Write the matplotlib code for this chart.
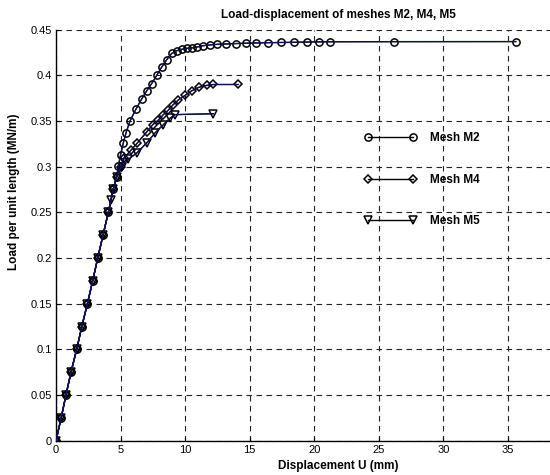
import matplotlib
matplotlib.use("Agg")
import matplotlib.pyplot as plt

plt.rcParams['font.family'] = ['Liberation Sans', 'DejaVu Sans']

# shared elastic branch
u_common = [0, 0.4, 0.77, 1.16, 1.6, 2.0, 2.43, 2.84, 3.23, 3.64, 4.05, 4.44, 4.7]
p_common = [0, 0.025, 0.05, 0.075, 0.1, 0.125, 0.15, 0.175, 0.2, 0.225, 0.25, 0.276, 0.289]

u_m2 = u_common + [4.83, 5.0, 5.21, 5.42, 5.73, 6.19, 6.63, 7.02, 7.41, 7.8, 8.18, 8.57, 8.96,
                   9.34, 9.73, 10.12, 10.5, 10.9, 11.4, 11.9, 12.5, 13.2, 13.9, 14.7, 15.5,
                   16.4, 17.4, 18.4, 19.4, 20.4, 21.2, 26.2, 35.6]
p_m2 = p_common + [0.301, 0.313, 0.326, 0.337, 0.350, 0.363, 0.374, 0.383, 0.391, 0.400, 0.409,
                   0.417, 0.424, 0.427, 0.4285, 0.4296, 0.430, 0.431, 0.4325, 0.4333, 0.434,
                   0.4344, 0.4348, 0.4352, 0.4355, 0.4358, 0.436, 0.4362, 0.4365, 0.4367,
                   0.4368, 0.4369, 0.437]

u_m4 = u_common + [5.0, 5.3, 5.8, 6.3, 7.02, 7.49, 7.92, 8.31, 8.7, 9.08, 9.47, 9.99, 10.5,
                   11.07, 11.67, 12.18, 14.1]
p_m4 = p_common + [0.300, 0.310, 0.318, 0.326, 0.338, 0.346, 0.351, 0.357, 0.362, 0.368,
                   0.373, 0.378, 0.383, 0.387, 0.389, 0.390, 0.390]

u_m5 = u_common[:11] + [4.26] + u_common[11:] + [5.1, 5.6, 6.25, 7.02, 7.67, 8.31, 8.83, 9.2, 12.18]
p_m5 = p_common[:11] + [0.263] + p_common[11:] + [0.300, 0.308, 0.315, 0.326, 0.337, 0.346,
                                                   0.353, 0.357, 0.358]

series = [("Mesh M2", u_m2, p_m2, 'o'),
          ("Mesh M4", u_m4, p_m4, 'D'),
          ("Mesh M5", u_m5, p_m5, 'v')]
msizes = {'o': 5.2, 'D': 4.3, 'v': 5.8}

x_ticks = [0, 5, 10, 15, 20, 25, 30, 35]
y_ticks = [0, 0.05, 0.1, 0.15, 0.2, 0.25, 0.3, 0.35, 0.4, 0.45]
y_ticklabels = ['0', '0.05', '0.1', '0.15', '0.2', '0.25', '0.3', '0.35', '0.4', '0.45']

fig = plt.figure(figsize=(5.5, 4.75), dpi=100)
ax = fig.add_axes([56/550, 34.3/475, 516.6/550, 411/475])

for label, u, p, m in series:
    ax.plot(u, p, color='black', lw=1.0, marker=m, ms=msizes[m], mfc='none',
            mec='black', mew=1.1, label=label, zorder=3)
    ax.plot(u, p, color='#101060', lw=0.8, zorder=4)

ax.set_xlim(0, 40)
ax.set_ylim(0, 0.45)
ax.set_xticks(x_ticks)
ax.set_yticks(y_ticks)
ax.set_yticklabels(y_ticklabels)
ax.tick_params(direction='in', length=3, labelsize=8, pad=3)
ax.grid(True, color='#222222', lw=0.8, linestyle=(0, (5, 4)))
ax.spines['top'].set_visible(False)
ax.spines['right'].set_visible(False)
ax.spines['left'].set_linewidth(1.0)
ax.spines['bottom'].set_linewidth(1.0)

leg = ax.legend(loc='upper left', bbox_to_anchor=(0.576, 0.776), frameon=False,
                numpoints=2, handlelength=4.4, labelspacing=2.5, handletextpad=1.2,
                prop={'weight': 'bold', 'size': 8.5})

fig.text(338/550, 1 - 15/475, "Load-displacement of meshes M2, M4, M5",
         ha='center', va='center', fontsize=8.5, fontweight='bold')
fig.text(338/550, 1 - 466/475, "Displacement U (mm)",
         ha='center', va='center', fontsize=8.5, fontweight='bold')
fig.text(14/550, 1 - 192/475, "Load per unit length (MN/m)", rotation=90,
         ha='center', va='center', fontsize=8.5, fontweight='bold')

fig.savefig("out.png", dpi=100)
